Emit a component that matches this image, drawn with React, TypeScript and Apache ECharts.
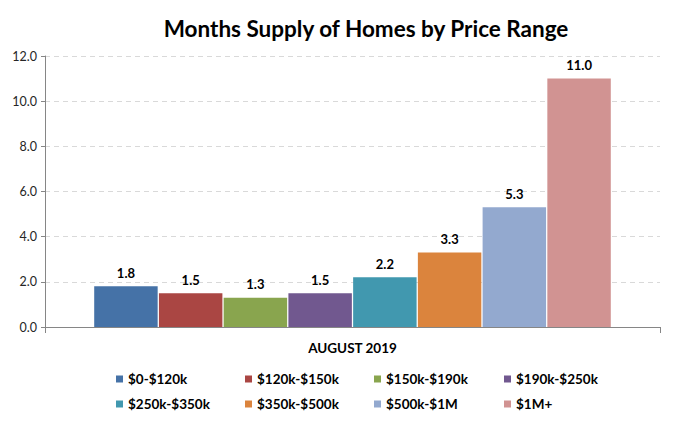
import React, { useEffect, useRef } from "react";
import * as echarts from "echarts";

const categories = ["AUGUST 2019"];
const seriesNames = ["$0-$120k", "$120k-$150k", "$150k-$190k", "$190k-$250k", "$250k-$350k", "$350k-$500k", "$500k-$1M", "$1M+"];
const seriesValues = [1.8, 1.5, 1.3, 1.5, 2.2, 3.3, 5.3, 11.0];
const seriesColors = ["#4572A7", "#AA4643", "#89A54E", "#71588F", "#4198AF", "#DB843D", "#93A9CF", "#D19392"];
const yTicks = { min: 0, max: 12, interval: 2 };

const FONT = "Lato, 'Liberation Sans', sans-serif";

export default function App() {
  const ref = useRef<HTMLDivElement>(null);
  useEffect(() => {
    if (!ref.current) return;
    const chart = echarts.init(ref.current, null, { renderer: "svg" });
    const legendX = [116, 245, 374, 504];
    const legendY = [372, 397];
    chart.setOption({
      animation: false,
      backgroundColor: "#ffffff",
      textStyle: { fontFamily: FONT },
      title: {
        text: "Months Supply of Homes by Price Range",
        left: 361,
        textAlign: "center",
        top: 12,
        textStyle: { fontFamily: FONT, fontSize: 22.5, fontWeight: "bold", color: "#000000" },
      },
      legend: seriesNames.map((name, i) => ({
        data: [name],
        left: legendX[i % 4],
        top: legendY[Math.floor(i / 4)],
        itemWidth: 7,
        itemHeight: 7,
        itemGap: 0,
        icon: "rect",
        selectedMode: false,
        padding: 0,
        textStyle: { fontFamily: FONT, fontSize: 13.5, fontWeight: "bold", color: "#000000", padding: [0, 0, 0, 0] },
      })),
      grid: { left: 45, right: 15, top: 56, bottom: 96 },
      xAxis: {
        type: "category",
        data: categories,
        axisLine: { lineStyle: { color: "#868686" } },
        axisTick: { show: true, length: 6, lineStyle: { color: "#868686" } },
        axisLabel: { fontFamily: FONT, fontSize: 13.5, fontWeight: "bold", color: "#000000", margin: 14 },
      },
      yAxis: {
        type: "value",
        min: yTicks.min,
        max: yTicks.max,
        interval: yTicks.interval,
        axisLine: { show: true, lineStyle: { color: "#868686" } },
        axisTick: { show: true, length: 4, lineStyle: { color: "#868686" } },
        axisLabel: {
          fontFamily: FONT,
          fontSize: 12.5,
          color: "#262626",
          margin: 8,
          formatter: (v: number) => v.toFixed(1),
        },
        splitLine: { show: true, lineStyle: { color: "#d9d9d9", type: [5, 4] } },
      },
      series: seriesNames.map((name, i) => ({
        name,
        type: "bar",
        data: [seriesValues[i]],
        barCategoryGap: "16%",
        barGap: "2%",
        itemStyle: { color: seriesColors[i] },
        label: {
          show: true,
          position: "top",
          distance: 7,
          fontFamily: FONT,
          fontSize: 13,
          fontWeight: "bold",
          color: "#000000",
          formatter: (p: any) => Number(p.value).toFixed(1),
        },
      })),
    });
    return () => chart.dispose();
  }, []);
  return <div ref={ref} style={{ position: "fixed", left: 0, top: 0, width: 675, height: 423 }} />;
}
